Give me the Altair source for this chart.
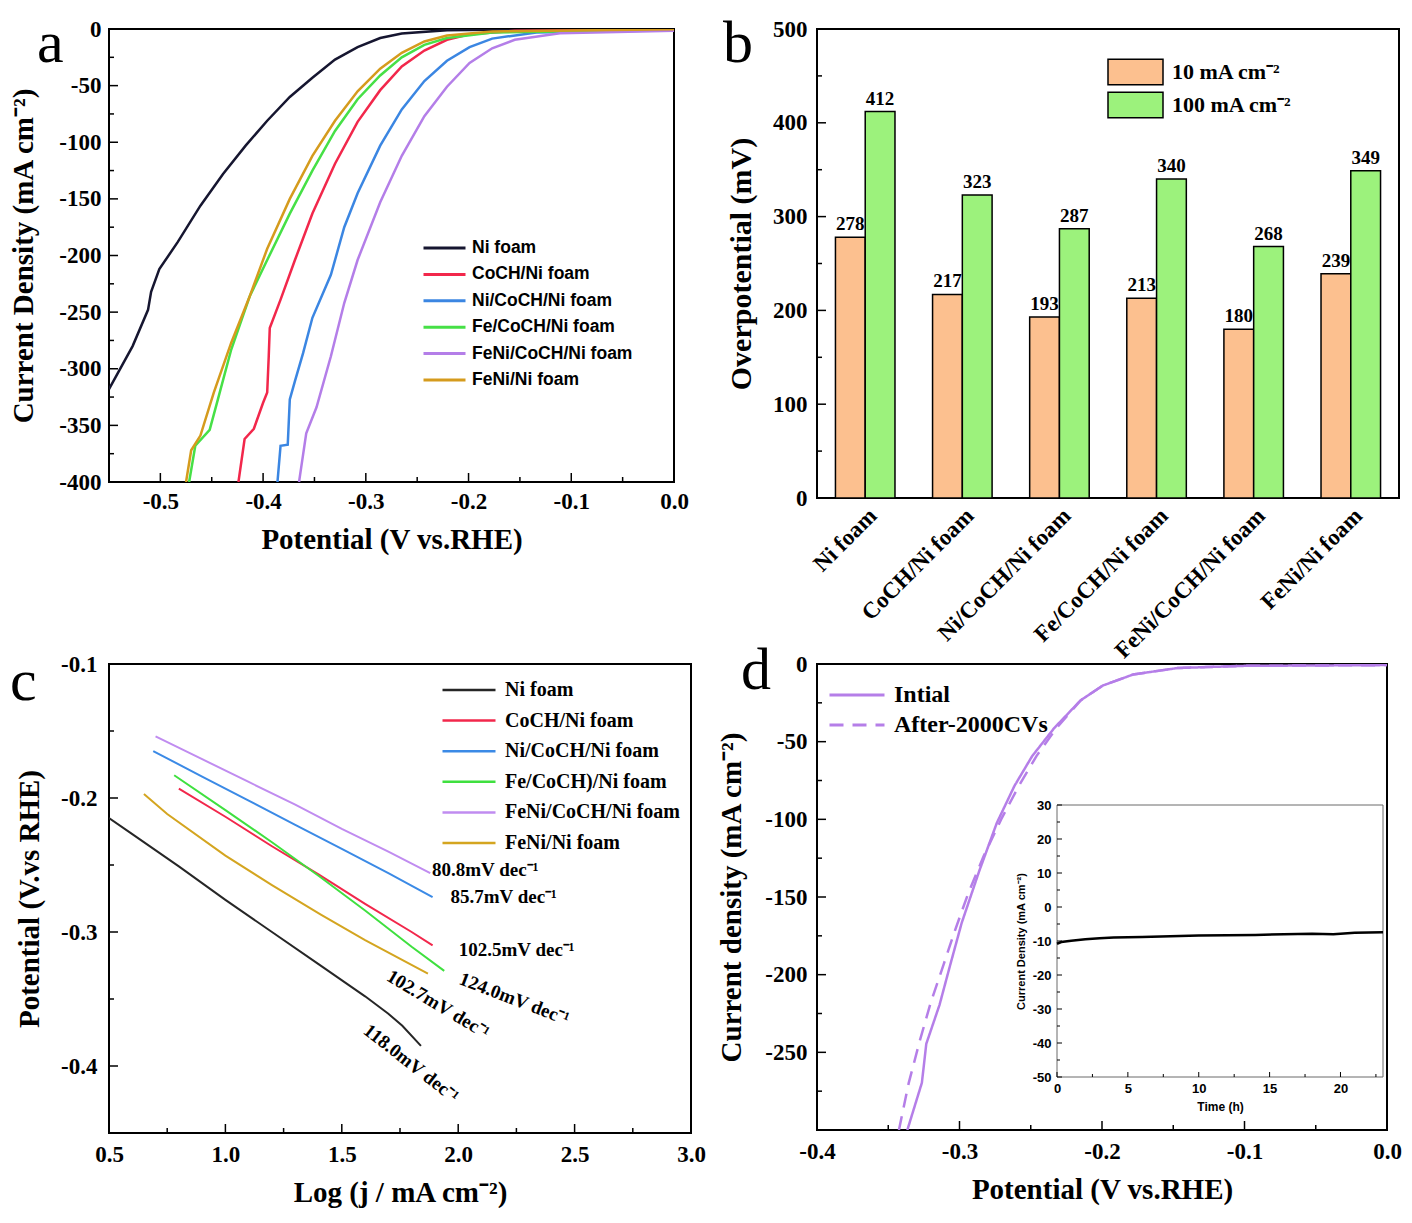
import altair as alt
import pandas as pd

SERIF = "Liberation Serif"
SANS = "Liberation Sans"
HYPHEN = "replace(datum.label, '\u2212', '-')"

# ---------------- Panel a : polarization curves ----------------
a_names = ["Ni foam", "CoCH/Ni foam", "Ni/CoCH/Ni foam", "Fe/CoCH/Ni foam",
           "FeNi/CoCH/Ni foam", "FeNi/Ni foam"]
a_colors = ["#161630", "#f2274b", "#3b86e2", "#46e046", "#b47ee8", "#d59b1d"]

a_ni_v = [-0.55, -0.527, -0.512, -0.509, -0.501, -0.483, -0.461, -0.439, -0.417, -0.396,
          -0.374, -0.352, -0.330, -0.308, -0.286, -0.265, -0.221, -0.15, 0.0]
a_ni_j = [-318, -280, -248, -232, -212, -188, -156, -128, -103, -81,
          -60, -43, -27, -16, -8, -4, -1, -0.3, 0]
a_co_v = [-0.424, -0.418, -0.409, -0.400, -0.396, -0.3945, -0.3935, -0.383, -0.369, -0.352,
          -0.330, -0.308, -0.286, -0.265, -0.243, -0.221, -0.199, -0.155, 0.0]
a_co_j = [-400, -362, -353, -330, -321, -289, -264, -239, -204, -163,
          -119, -82, -54, -33, -19, -9.5, -4.7, -1.6, -0.6]
a_nico_v = [-0.386, -0.383, -0.376, -0.374, -0.369, -0.361, -0.352, -0.334, -0.321, -0.308,
            -0.286, -0.265, -0.243, -0.221, -0.199, -0.177, -0.134, 0.0]
a_nico_j = [-400, -368, -367, -327, -311, -286, -255, -217, -175, -145,
            -103, -71, -46, -28, -16, -8.5, -3, -1]
a_feco_v = [-0.472, -0.466, -0.452, -0.444, -0.431, -0.413, -0.396, -0.374, -0.352, -0.330,
            -0.308, -0.286, -0.265, -0.243, -0.221, -0.177, 0.0]
a_feco_j = [-400, -368, -354, -327, -283, -236, -204, -163, -125, -90,
            -62, -41, -25, -14, -8, -3, -0.6]
a_fenico_v = [-0.365, -0.358, -0.348, -0.334, -0.321, -0.308, -0.286, -0.265, -0.243, -0.221,
              -0.199, -0.177, -0.155, -0.111, 0.0]
a_fenico_j = [-400, -357, -334, -289, -242, -204, -153, -112, -77, -51,
              -30, -17, -9.5, -3.8, -1.6]
a_feni_v = [-0.475, -0.470, -0.461, -0.448, -0.431, -0.413, -0.396, -0.374, -0.352, -0.330,
            -0.308, -0.286, -0.265, -0.243, -0.221, -0.177, 0.0]
a_feni_j = [-400, -372, -359, -321, -277, -236, -194, -150, -112, -81,
            -55, -35, -21, -11, -5.7, -2.2, -0.3]
a_x_major = [-0.5, -0.4, -0.3, -0.2, -0.1, 0.0]
a_x_minor = [-0.55, -0.45, -0.35, -0.25, -0.15, -0.05]
a_y_major = [-400, -350, -300, -250, -200, -150, -100, -50, 0]
a_y_minor = [-375, -325, -275, -225, -175, -125, -75, -25]

# ---------------- Panel b : overpotential bars ----------------
b_cats = ["Ni foam", "CoCH/Ni foam", "Ni/CoCH/Ni foam", "Fe/CoCH/Ni foam",
          "FeNi/CoCH/Ni foam", "FeNi/Ni foam"]
b_series = ["10 mA cm\u207b\u00b2", "100 mA cm\u207b\u00b2"]
b_10 = [278, 217, 193, 213, 180, 239]
b_100 = [412, 323, 287, 340, 268, 349]
b_colors = ["#fcc08f", "#9cf27c"]
b_y_major = [0, 100, 200, 300, 400, 500]
b_y_minor = [50, 150, 250, 350, 450]

# ---------------- Panel c : Tafel plots ----------------
c_names = ["Ni foam", "CoCH/Ni foam", "Ni/CoCH/Ni foam", "Fe/CoCH)/Ni foam",
           "FeNi/CoCH/Ni foam", "FeNi/Ni foam"]
c_colors = ["#262626", "#f2274b", "#3b8ae6", "#3fe03f", "#c08cf0", "#d4a520"]
c_ni_x = [0.5, 0.6, 0.8, 1.0, 1.2, 1.4, 1.6, 1.7, 1.76, 1.84]
c_ni_y = [-0.215, -0.227, -0.251, -0.276, -0.300, -0.324, -0.348, -0.361, -0.370, -0.385]
c_co_x = [0.8, 1.0, 1.2, 1.4, 1.6, 1.8, 1.89]
c_co_y = [-0.193, -0.214, -0.236, -0.257, -0.279, -0.300, -0.310]
c_nico_x = [0.69, 0.9, 1.1, 1.3, 1.5, 1.7, 1.89]
c_nico_y = [-0.165, -0.184, -0.202, -0.220, -0.238, -0.256, -0.274]
c_feco_x = [0.78, 1.0, 1.2, 1.4, 1.6, 1.8, 1.94]
c_feco_y = [-0.183, -0.209, -0.233, -0.258, -0.284, -0.311, -0.329]
c_fenico_x = [0.70, 0.9, 1.1, 1.3, 1.5, 1.7, 1.88]
c_fenico_y = [-0.154, -0.171, -0.188, -0.205, -0.223, -0.240, -0.256]
c_feni_x = [0.65, 0.75, 1.0, 1.2, 1.41, 1.6, 1.87]
c_feni_y = [-0.197, -0.212, -0.243, -0.265, -0.287, -0.306, -0.331]
c_slope_text = ["80.8mV dec\u207b\u00b9", "85.7mV dec\u207b\u00b9", "102.5mV dec\u207b\u00b9",
                "124.0mV dec\u207b\u00b9", "102.7mV dec\u207b\u00b9", "118.0mV dec\u207b\u00b9"]
c_slope_x = [2.116, 2.195, 2.251, 2.241, 1.914, 1.798]
c_slope_y = [-0.2537, -0.2738, -0.3131, -0.350, -0.354, -0.398]
c_slope_angle = [0, 0, 0, 21, 31, 38]
c_x_major = [0.5, 1.0, 1.5, 2.0, 2.5, 3.0]
c_x_minor = [0.75, 1.25, 1.75, 2.25, 2.75]
c_y_major = [-0.4, -0.3, -0.2, -0.1]
c_y_minor = [-0.45, -0.35, -0.25, -0.15]

# ---------------- Panel d : stability ----------------
d_names = ["Intial", "After-2000CVs"]
d_color = "#b57ee8"
d_init_v = [-0.3366, -0.3264, -0.3233, -0.314, -0.3063, -0.2985, -0.2862, -0.2738, -0.2614,
            -0.249, -0.2336, -0.215, -0.1995, -0.178, -0.147, -0.1005, 0.0]
d_init_j = [-300, -269.6, -244.5, -219.4, -193, -166.8, -133.4, -102.3, -78.4,
            -59.3, -41.3, -23.4, -13.9, -6.7, -2.6, -1.2, -0.7]
d_after_v = [-0.3425, -0.3357, -0.328, -0.3202, -0.311, -0.3032, -0.2939, -0.2831, -0.2707,
             -0.2583, -0.246, -0.232, -0.215, -0.1995, -0.178, -0.147, -0.1005, 0.0]
d_after_j = [-300, -270, -243, -218, -193, -171.6, -147.7, -123.8, -99.9,
             -78.4, -59.3, -41.3, -23.4, -13.9, -6.7, -2.6, -1.2, -0.7]
d_x_major = [-0.4, -0.3, -0.2, -0.1, 0.0]
d_x_minor = [-0.35, -0.25, -0.15, -0.05]
d_y_major = [-250, -200, -150, -100, -50, 0]
d_y_minor = [-275, -225, -175, -125, -75, -25]
# inset: chronoamperometry
i_t = [0, 0.3, 1, 2, 3, 4, 5, 6, 8, 10, 12, 14, 16, 18, 19.5, 21, 23]
i_j = [-10.8, -10.3, -9.9, -9.5, -9.2, -9.0, -8.9, -8.8, -8.6, -8.4, -8.3, -8.2, -8.0, -7.9, -8.0, -7.6, -7.4]
i_x_major = [0, 5, 10, 15, 20]
i_x_minor = [2.5, 7.5, 12.5, 17.5, 22.5]
i_y_major = [-50, -40, -30, -20, -10, 0, 10, 20, 30]
i_y_minor = [-45, -35, -25, -15, -5, 5, 15, 25]

# ---------------- layout constants ----------------
A_W, A_H = 565, 453
B_W, B_H = 582, 469
C_W, C_H = 582, 469
D_W, D_H = 570, 466
IX0, IX1, IY0, IY1 = 240, 566, 413, 141   # inset area inside panel d (pixels)
MAJ, MIN = 9, 5
LETTER = 60


def axis(title, values, fmt, title_pad, label_pad, lsize=23, tsize=29, **kw):
    return alt.Axis(title=title, values=values, format=fmt, labelExpr=HYPHEN,
                    ticks=False, domain=False, grid=False, labelFlush=False,
                    labelOverlap=False, labelFont=SERIF, labelFontWeight="bold",
                    labelFontSize=lsize, labelColor="black", titleFont=SERIF,
                    titleFontWeight="bold", titleFontSize=tsize, titleColor="black",
                    titlePadding=title_pad, labelPadding=label_pad, **kw)


def xticks(vals, sx, ax, H, L, sw=1.5):
    return alt.Chart(pd.DataFrame({"t": vals})).mark_rule(color="black", strokeWidth=sw).encode(
        x=alt.X("t:Q", scale=sx, axis=ax), y=alt.value(H), y2=alt.value(H - L))


def yticks(vals, sy, ax, L, x0=0, sw=1.5):
    return alt.Chart(pd.DataFrame({"t": vals})).mark_rule(color="black", strokeWidth=sw).encode(
        y=alt.Y("t:Q", scale=sy, axis=ax), x=alt.value(x0), x2=alt.value(x0 + L))


def letter(ch, x, y):
    return alt.Chart(pd.DataFrame({"s": [ch]})).mark_text(
        font=SERIF, fontSize=LETTER, align="left", baseline="alphabetic", color="black"
    ).encode(text="s:N", x=alt.value(x), y=alt.value(y))


def long_df(names, xs, ys, key):
    rows = []
    for n, xv, yv in zip(names, xs, ys):
        for i, (a, b) in enumerate(zip(xv, yv)):
            rows.append({key: n, "x": a, "y": b, "o": i})
    return pd.DataFrame(rows)


def line_legend(x, y, size, clip, rowpad, font, fsize, offset, sw):
    return alt.Legend(title=None, orient="none", legendX=x, legendY=y, symbolType="stroke",
                      symbolSize=size, symbolStrokeWidth=sw, clipHeight=clip, rowPadding=rowpad,
                      labelOffset=offset, padding=0, labelFont=font, labelFontWeight="bold",
                      labelFontSize=fsize, labelColor="black", labelLimit=400)


# ================= Panel a =================
dfa = long_df(a_names, [a_ni_v, a_co_v, a_nico_v, a_feco_v, a_fenico_v, a_feni_v],
              [a_ni_j, a_co_j, a_nico_j, a_feco_j, a_fenico_j, a_feni_j], "sa")
sxa = alt.Scale(domain=[-0.55, 0], nice=False, zero=False)
sya = alt.Scale(domain=[-400, 0], nice=False, zero=False)
axa = axis("Potential (V vs.RHE)", a_x_major, ".1f", 12, 8)
aya = axis("Current Density (mA cm\u207b\u00b2)", a_y_major, "d", 20, 8)
lines_a = alt.Chart(dfa).mark_line(strokeWidth=2.5, clip=True).encode(
    x=alt.X("x:Q", scale=sxa, axis=axa),
    y=alt.Y("y:Q", scale=sya, axis=aya),
    color=alt.Color("sa:N", scale=alt.Scale(domain=a_names, range=a_colors),
                    legend=line_legend(313, 208, 1764, 22, 4.4, SANS, 17.5, 5, 3)),
    order="o:Q")
panel_a = alt.layer(
    lines_a,
    xticks(a_x_major, sxa, axa, A_H, MAJ), xticks(a_x_minor, sxa, axa, A_H, MIN),
    yticks(a_y_major, sya, aya, MAJ), yticks(a_y_minor, sya, aya, MIN),
    letter("a", -72, 33),
).properties(width=A_W, height=A_H)

# ================= Panel b =================
dfb = pd.DataFrame(
    [{"cat": c, "sb": b_series[0], "val": v} for c, v in zip(b_cats, b_10)]
    + [{"cat": c, "sb": b_series[1], "val": v} for c, v in zip(b_cats, b_100)])
sxb = alt.Scale(domain=b_cats, paddingInner=0.387, paddingOuter=0.19)
syb = alt.Scale(domain=[0, 500], nice=False, zero=False)
bxax = alt.Axis(title=None, labelAngle=315, labelAlign="right", ticks=False, domain=False,
                labelFont=SERIF, labelFontWeight="bold", labelFontSize=23, labelColor="black",
                labelPadding=6, labelOverlap=False, labelLimit=400)
byax = axis("Overpotential (mV)", b_y_major, "d", 16, 10, tsize=30)
xoff = alt.XOffset("sb:N", scale=alt.Scale(domain=b_series, paddingInner=0, paddingOuter=0))
bars = alt.Chart(dfb).mark_bar(stroke="black", strokeWidth=1.5).encode(
    x=alt.X("cat:N", scale=sxb, axis=bxax, sort=b_cats),
    xOffset=xoff,
    y=alt.Y("val:Q", scale=syb, axis=byax),
    color=alt.Color("sb:N", scale=alt.Scale(domain=b_series, range=b_colors),
                    legend=alt.Legend(title=None, orient="none", legendX=290, legendY=29,
                                      symbolType="M-1,-0.46H1V0.46H-1Z", symbolSize=3025,
                                      symbolStrokeColor="black", symbolStrokeWidth=1.5,
                                      clipHeight=28, rowPadding=5, labelOffset=8, padding=0,
                                      labelFont=SERIF, labelFontWeight="bold", labelFontSize=22,
                                      labelColor="black", labelLimit=400)))
bar_text = alt.Chart(dfb).mark_text(font=SERIF, fontWeight="bold", fontSize=19, baseline="bottom",
                                    dy=-3, color="black").encode(
    x=alt.X("cat:N", scale=sxb, axis=bxax, sort=b_cats), xOffset=xoff,
    y=alt.Y("val:Q", scale=syb, axis=byax), text="val:Q")
panel_b = alt.layer(
    bars, bar_text,
    yticks(b_y_major, syb, byax, MAJ), yticks(b_y_minor, syb, byax, MIN),
    letter("b", -94, 33),
).properties(width=B_W, height=B_H)

# ================= Panel c =================
dfc = long_df(c_names, [c_ni_x, c_co_x, c_nico_x, c_feco_x, c_fenico_x, c_feni_x],
              [c_ni_y, c_co_y, c_nico_y, c_feco_y, c_fenico_y, c_feni_y], "sc")
sxc = alt.Scale(domain=[0.5, 3.0], nice=False, zero=False)
syc = alt.Scale(domain=[-0.45, -0.1], nice=False, zero=False)
axc = axis("Log (j / mA cm\u207b\u00b2)", c_x_major, ".1f", 12, 10)
ayc = axis("Potential (V.vs RHE)", c_y_major, ".1f", 16, 12)
lines_c = alt.Chart(dfc).mark_line(strokeWidth=2, clip=True).encode(
    x=alt.X("x:Q", scale=sxc, axis=axc),
    y=alt.Y("y:Q", scale=syc, axis=ayc),
    color=alt.Color("sc:N", scale=alt.Scale(domain=c_names, range=c_colors),
                    legend=line_legend(332, 14, 2809, 24, 6.6, SERIF, 20, 8, 2.5)),
    order="o:Q")
dfs = pd.DataFrame({"s": c_slope_text, "x": c_slope_x, "y": c_slope_y, "a": c_slope_angle})
slopes = alt.Chart(dfs).mark_text(font=SERIF, fontWeight="bold", fontSize=19, align="center",
                                  baseline="middle", color="black").encode(
    x=alt.X("x:Q", scale=sxc, axis=axc), y=alt.Y("y:Q", scale=syc, axis=ayc),
    text="s:N", angle=alt.Angle("a:Q", scale=None))
panel_c = alt.layer(
    lines_c, slopes,
    xticks(c_x_major, sxc, axc, C_H, MAJ), xticks(c_x_minor, sxc, axc, C_H, MIN),
    yticks(c_y_major, syc, ayc, MAJ), yticks(c_y_minor, syc, ayc, MIN),
    letter("c", -99, 36),
).properties(width=C_W, height=C_H)

# ================= Panel d =================
dfd = long_df(d_names, [d_init_v, d_after_v], [d_init_j, d_after_j], "sd")
sxd = alt.Scale(domain=[-0.4, 0], nice=False, zero=False)
syd = alt.Scale(domain=[-300, 0], nice=False, zero=False)
axd = axis("Potential (V vs.RHE)", d_x_major, ".1f", 12, 10)
ayd = axis("Current density (mA cm\u207b\u00b2)", d_y_major, "d", 18, 10)
d_leg = line_legend(11, 18, 3025, 26, 4, SERIF, 24, 8, 3)
lines_d = alt.Chart(dfd).mark_line(strokeWidth=2.5, clip=True).encode(
    x=alt.X("x:Q", scale=sxd, axis=axd),
    y=alt.Y("y:Q", scale=syd, axis=ayd),
    color=alt.Color("sd:N", scale=alt.Scale(domain=d_names, range=[d_color, d_color]),
                    legend=d_leg),
    strokeDash=alt.StrokeDash("sd:N", scale=alt.Scale(domain=d_names, range=[[1, 0], [14, 9]]),
                              legend=d_leg),
    order="o:Q")
main_d = alt.layer(
    lines_d,
    xticks(d_x_major, sxd, axd, D_H, MAJ), xticks(d_x_minor, sxd, axd, D_H, MIN),
    yticks(d_y_major, syd, ayd, MAJ), yticks(d_y_minor, syd, ayd, MIN),
    letter("d", -76, 25),
)

sxi = alt.Scale(domain=[0, 23], range=[IX0, IX1], nice=False, zero=False)
syi = alt.Scale(domain=[-50, 30], range=[IY0, IY1], nice=False, zero=False)
ixax = alt.Axis(title="Time (h)", orient="bottom", offset=IY0 - D_H, values=i_x_major, format="d",
                ticks=False, domain=False, grid=False, labelFlush=False, labelOverlap=False,
                labelFont=SANS, labelFontWeight="bold", labelFontSize=13, labelColor="black",
                titleFont=SANS, titleFontWeight="bold", titleFontSize=12, titleColor="black",
                labelPadding=5, titlePadding=6)
iyax = alt.Axis(title="Current Density (mA cm\u207b\u00b2)", orient="left", offset=-IX0,
                values=i_y_major, format="d", labelExpr=HYPHEN, ticks=False, domain=False,
                grid=False, labelFlush=False, labelOverlap=False, labelFont=SANS,
                labelFontWeight="bold", labelFontSize=13, labelColor="black", titleFont=SANS,
                titleFontWeight="bold", titleFontSize=11, titleColor="black",
                labelPadding=6, titlePadding=6)
dfi_frame = pd.DataFrame({"x0": [0], "x1": [23], "y0": [-50], "y1": [30]})
inset_frame = alt.Chart(dfi_frame).mark_rect(fill="white", stroke="#6b6b6b", strokeWidth=1).encode(
    x=alt.X("x0:Q", scale=sxi, axis=ixax), x2="x1:Q",
    y=alt.Y("y0:Q", scale=syi, axis=iyax), y2="y1:Q")
dfi = pd.DataFrame({"t": i_t, "j": i_j})
inset_line = alt.Chart(dfi).mark_line(color="black", strokeWidth=2.5).encode(
    x=alt.X("t:Q", scale=sxi, axis=ixax), y=alt.Y("j:Q", scale=syi, axis=iyax))
inset = alt.layer(
    inset_frame, inset_line,
    xticks(i_x_major, sxi, ixax, IY0, 5, 1), xticks(i_x_minor, sxi, ixax, IY0, 3, 1),
    yticks(i_y_major, syi, iyax, 5, IX0, 1), yticks(i_y_minor, syi, iyax, 3, IX0, 1),
)
panel_d = alt.layer(main_d, inset).resolve_scale(
    x="independent", y="independent").resolve_axis(
    x="independent", y="independent").properties(width=D_W, height=D_H)

chart = alt.concat(
    panel_a, panel_b, panel_c, panel_d, columns=2,
    spacing={"row": 166, "column": 126}, bounds="flush",
).resolve_scale(
    x="independent", y="independent", color="independent", strokeDash="independent",
    xOffset="independent",
).configure_view(stroke="black", strokeWidth=2).properties(
    padding={"left": 0, "top": 5, "right": 0, "bottom": 0}, background="white")

chart.save("out.html", embed_options={"renderer": "svg", "actions": False})
